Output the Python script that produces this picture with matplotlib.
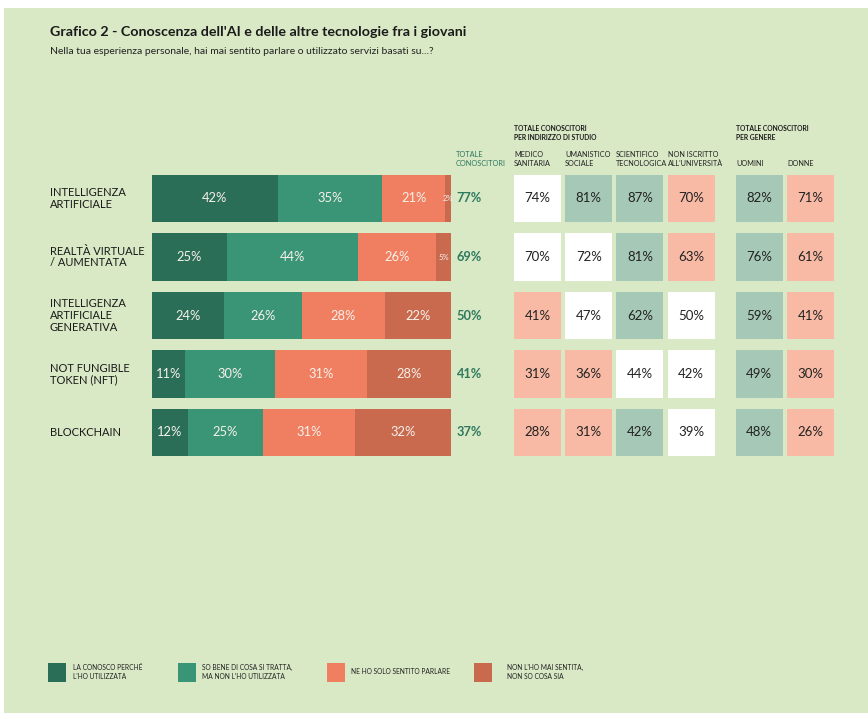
import numpy as np
import matplotlib
matplotlib.use("Agg")
import matplotlib.pyplot as plt
from matplotlib.patches import Rectangle

plt.rcParams['font.family'] = ['Lato', 'DejaVu Sans']

# data
categories = ["INTELLIGENZA\nARTIFICIALE", "REALTÀ VIRTUALE\n/ AUMENTATA",
              "INTELLIGENZA\nARTIFICIALE\nGENERATIVA", "NOT FUNGIBLE\nTOKEN (NFT)",
              "BLOCKCHAIN"]
used = [42, 25, 24, 11, 12]
known = [35, 44, 26, 30, 25]
heard = [21, 26, 28, 31, 31]
never = [2, 5, 22, 28, 32]
totals = [77, 69, 50, 41, 37]

study_cols = ["MEDICO\nSANITARIA", "UMANISTICO\nSOCIALE", "SCIENTIFICO\nTECNOLOGICA",
              "NON ISCRITTO\nALL'UNIVERSITÀ"]
gender_cols = ["UOMINI", "DONNE"]
medico = [74, 70, 41, 31, 28]
umanistico = [81, 72, 47, 36, 31]
scientifico = [87, 81, 62, 44, 42]
non_iscritto = [70, 63, 50, 42, 39]
uomini = [82, 76, 59, 49, 48]
donne = [71, 61, 41, 30, 26]

legend_labels = ["LA CONOSCO PERCHÉ\nL'HO UTILIZZATA", "SO BENE DI COSA SI TRATTA,\nMA NON L'HO UTILIZZATA",
                 "NE HO SOLO SENTITO PARLARE", "NON L'HO MAI SENTITA,\nNON SO COSA SIA"]

seg_colors = ["#2a6e58", "#3a9577", "#f07f61", "#c96a4f"]
bg = "#d9e8c5"
W, H = 868, 713

fig = plt.figure(figsize=(W / 100, H / 100), dpi=100, facecolor="white")
fig.patches.append(Rectangle((4 / W, 0), 1, 1 - 8 / H, transform=fig.transFigure,
                             facecolor=bg, edgecolor="none", zorder=-1))

def fx(px):
    return px / W

def fy(py):
    return 1 - py / H

# title
fig.text(fx(50), fy(32), "Grafico 2 - Conoscenza dell'AI e delle altre tecnologie fra i giovani",
         fontsize=10.3, fontweight="bold", va="center", ha="left", color="#1a1a1a")
fig.text(fx(50), fy(52), "Nella tua esperienza personale, hai mai sentito parlare o utilizzato servizi basati su...?",
         fontsize=7.45, va="center", ha="left", color="#222222")

# stacked bars
top, bot = 169.25, 461.75
ax = fig.add_axes([fx(152), fy(bot), fx(451) - fx(152), (bot - top) / H])
ax.set_xlim(0, 100)
ax.set_ylim(4.5, -0.5)
ax.axis("off")
y = np.arange(len(categories))
series = [used, known, heard, never]
left = np.zeros(len(categories))
for vals, col in zip(series, seg_colors):
    vals = np.array(vals)
    ax.barh(y, vals, left=left, height=0.805, color=col, edgecolor="none")
    for yi, v, l in zip(y, vals, left):
        fs = 5.5 if v < 8 else 9.3
        ax.text(l + v / 2, yi, f"{v}%", ha="center", va="center", color="#f6f1ea", fontsize=fs)
    left = left + vals

for yi, t in zip(y, totals):
    ax.annotate(f"{t}%", xy=(100, yi), xytext=(4, 0), textcoords="offset points",
                ha="left", va="center", fontsize=9.2, fontweight="bold", color="#2d7a5f")

for yi, c in zip(y, categories):
    ax.annotate(c, xy=(0, yi), xycoords="data", xytext=(50 - 152, 0),
                textcoords="offset pixels", ha="left", va="center", fontsize=8.0,
                color="#1a1a1a", linespacing=1.1)

# cell tables
col_pos = [0, 1, 2, 3, 4.33, 5.33]
col_vals = [medico, umanistico, scientifico, non_iscritto, uomini, donne]
col_names = study_cols + gender_cols
unit = (810.5 - 537.5) / 5.33
x0 = 537.5 - unit / 2
x1 = 810.5 + unit / 2
axc = fig.add_axes([fx(x0), fy(bot), (x1 - x0) / W, (bot - top) / H])
axc.set_xlim(-0.5, 5.83)
axc.set_ylim(4.5, -0.5)
axc.axis("off")
cw = 47 / unit
for cp, vals in zip(col_pos, col_vals):
    for yi, v, t in zip(y, vals, totals):
        d = v - t
        if d > 3:
            fc = "#a6c8b7"
        elif d < -3:
            fc = "#f8baa5"
        else:
            fc = "white"
        axc.bar(cp, 0.805, bottom=yi - 0.4025, width=cw, color=fc, edgecolor="none")
        axc.text(cp, yi, f"{v}%", ha="center", va="center", fontsize=9.5, color="#222222")

# headers
hdr_x = [514, 565, 616, 668, 736, 787]
for hx, name in zip(hdr_x, col_names):
    fig.text(fx(hx), fy(167), name, ha="left", va="bottom", fontsize=5.2,
             color="#222222", linespacing=1.3)
fig.text(fx(456), fy(167), "TOTALE\nCONOSCITORI", ha="left", va="bottom", fontsize=5.3,
         color="#2d7a5f", linespacing=1.3)
fig.text(fx(514), fy(141), "TOTALE CONOSCITORI\nPER INDIRIZZO DI STUDIO", ha="left", va="bottom",
         fontsize=4.9, fontweight="bold", color="#1a1a1a", linespacing=1.35)
fig.text(fx(736), fy(141), "TOTALE CONOSCITORI\nPER GENERE", ha="left", va="bottom",
         fontsize=4.9, fontweight="bold", color="#1a1a1a", linespacing=1.35)

# legend
leg_x = [48, 178, 327, 474]
leg_tx = [73, 202, 351, 507]
for lx, tx, lab, col in zip(leg_x, leg_tx, legend_labels, seg_colors):
    fig.patches.append(Rectangle((fx(lx), fy(682)), 18 / W, 19 / H, transform=fig.transFigure,
                                 facecolor=col, edgecolor="none"))
    fig.text(fx(tx), fy(672), lab, ha="left", va="center", fontsize=4.8,
             color="#222222", linespacing=1.35)

fig.savefig("out.png", dpi=100, facecolor=fig.get_facecolor())
